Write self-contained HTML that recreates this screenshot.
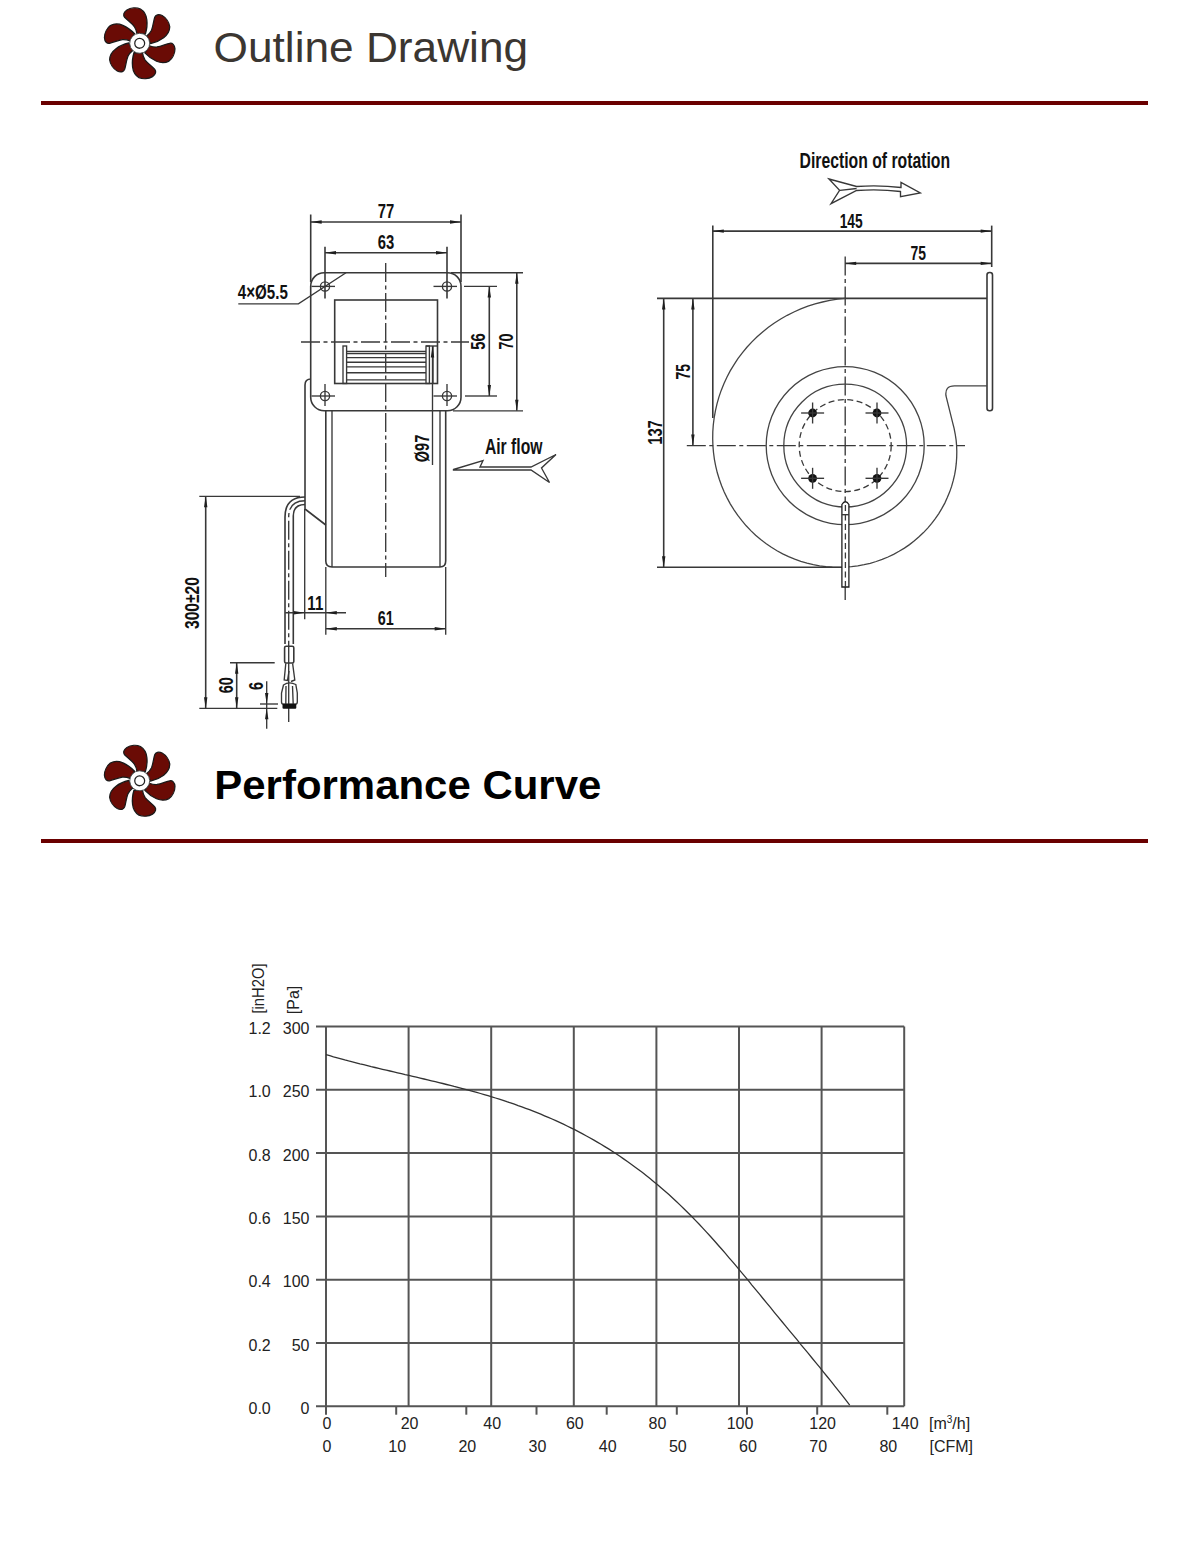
<!DOCTYPE html>
<html><head><meta charset="utf-8"><title>Outline Drawing</title>
<style>html,body{margin:0;padding:0;background:#fff;width:1200px;height:1550px;overflow:hidden;position:relative;font-family:"Liberation Sans",sans-serif}</style>
</head><body>
<svg width="1200" height="1550" viewBox="0 0 1200 1550" style="position:absolute;left:0;top:0">
<style>.d{stroke:#383838;stroke-width:1.6;fill:none}.t{stroke:#383838;stroke-width:1.35;fill:none}.c{stroke:#3a3a3a;stroke-width:1.35;fill:none;stroke-dasharray:19 3.5 4 3.5}.h{stroke:#3a3a3a;stroke-width:1.3;fill:none;stroke-dasharray:6 3.5}.v{stroke:#444;stroke-width:1.3;fill:none}.g{stroke:#555;stroke-width:2;fill:none}</style>
<g transform="translate(139.7 43.3) scale(0.97) rotate(-2)"><path d="M 6.2 -9.3 C 7.8 -14 8.6 -20 8.2 -24 C 7.8 -29 5.5 -33 2 -35.3 C -2 -37.2 -8 -37 -12 -34.8 C -15.6 -32.6 -16.2 -29.5 -14.6 -27.4 C -12 -24.3 -7.5 -21 -5 -17.5 C -3.5 -15 -2.8 -13 -2.5 -10 Z" transform="rotate(0)" fill="#6a0b05" stroke="#1a1a1a" stroke-width="1.3" stroke-linejoin="round"/><path d="M 6.2 -9.3 C 7.8 -14 8.6 -20 8.2 -24 C 7.8 -29 5.5 -33 2 -35.3 C -2 -37.2 -8 -37 -12 -34.8 C -15.6 -32.6 -16.2 -29.5 -14.6 -27.4 C -12 -24.3 -7.5 -21 -5 -17.5 C -3.5 -15 -2.8 -13 -2.5 -10 Z" transform="rotate(60)" fill="#6a0b05" stroke="#1a1a1a" stroke-width="1.3" stroke-linejoin="round"/><path d="M 6.2 -9.3 C 7.8 -14 8.6 -20 8.2 -24 C 7.8 -29 5.5 -33 2 -35.3 C -2 -37.2 -8 -37 -12 -34.8 C -15.6 -32.6 -16.2 -29.5 -14.6 -27.4 C -12 -24.3 -7.5 -21 -5 -17.5 C -3.5 -15 -2.8 -13 -2.5 -10 Z" transform="rotate(120)" fill="#6a0b05" stroke="#1a1a1a" stroke-width="1.3" stroke-linejoin="round"/><path d="M 6.2 -9.3 C 7.8 -14 8.6 -20 8.2 -24 C 7.8 -29 5.5 -33 2 -35.3 C -2 -37.2 -8 -37 -12 -34.8 C -15.6 -32.6 -16.2 -29.5 -14.6 -27.4 C -12 -24.3 -7.5 -21 -5 -17.5 C -3.5 -15 -2.8 -13 -2.5 -10 Z" transform="rotate(180)" fill="#6a0b05" stroke="#1a1a1a" stroke-width="1.3" stroke-linejoin="round"/><path d="M 6.2 -9.3 C 7.8 -14 8.6 -20 8.2 -24 C 7.8 -29 5.5 -33 2 -35.3 C -2 -37.2 -8 -37 -12 -34.8 C -15.6 -32.6 -16.2 -29.5 -14.6 -27.4 C -12 -24.3 -7.5 -21 -5 -17.5 C -3.5 -15 -2.8 -13 -2.5 -10 Z" transform="rotate(240)" fill="#6a0b05" stroke="#1a1a1a" stroke-width="1.3" stroke-linejoin="round"/><path d="M 6.2 -9.3 C 7.8 -14 8.6 -20 8.2 -24 C 7.8 -29 5.5 -33 2 -35.3 C -2 -37.2 -8 -37 -12 -34.8 C -15.6 -32.6 -16.2 -29.5 -14.6 -27.4 C -12 -24.3 -7.5 -21 -5 -17.5 C -3.5 -15 -2.8 -13 -2.5 -10 Z" transform="rotate(300)" fill="#6a0b05" stroke="#1a1a1a" stroke-width="1.3" stroke-linejoin="round"/><circle r="10.3" fill="#fff" stroke="#444" stroke-width="0.9"/><circle r="5.1" fill="#fff" stroke="#222" stroke-width="1.3"/></g>
<text x="213.6" y="62" font-family="Liberation Sans" font-size="43" font-weight="normal" text-anchor="start" fill="#3b3631" textLength="314.5" lengthAdjust="spacingAndGlyphs">Outline Drawing</text>
<rect x="41" y="101" width="1107" height="4" fill="#6a0000"/>
<g transform="translate(139.7 780.8) scale(0.97) rotate(-2)"><path d="M 6.2 -9.3 C 7.8 -14 8.6 -20 8.2 -24 C 7.8 -29 5.5 -33 2 -35.3 C -2 -37.2 -8 -37 -12 -34.8 C -15.6 -32.6 -16.2 -29.5 -14.6 -27.4 C -12 -24.3 -7.5 -21 -5 -17.5 C -3.5 -15 -2.8 -13 -2.5 -10 Z" transform="rotate(0)" fill="#6a0b05" stroke="#1a1a1a" stroke-width="1.3" stroke-linejoin="round"/><path d="M 6.2 -9.3 C 7.8 -14 8.6 -20 8.2 -24 C 7.8 -29 5.5 -33 2 -35.3 C -2 -37.2 -8 -37 -12 -34.8 C -15.6 -32.6 -16.2 -29.5 -14.6 -27.4 C -12 -24.3 -7.5 -21 -5 -17.5 C -3.5 -15 -2.8 -13 -2.5 -10 Z" transform="rotate(60)" fill="#6a0b05" stroke="#1a1a1a" stroke-width="1.3" stroke-linejoin="round"/><path d="M 6.2 -9.3 C 7.8 -14 8.6 -20 8.2 -24 C 7.8 -29 5.5 -33 2 -35.3 C -2 -37.2 -8 -37 -12 -34.8 C -15.6 -32.6 -16.2 -29.5 -14.6 -27.4 C -12 -24.3 -7.5 -21 -5 -17.5 C -3.5 -15 -2.8 -13 -2.5 -10 Z" transform="rotate(120)" fill="#6a0b05" stroke="#1a1a1a" stroke-width="1.3" stroke-linejoin="round"/><path d="M 6.2 -9.3 C 7.8 -14 8.6 -20 8.2 -24 C 7.8 -29 5.5 -33 2 -35.3 C -2 -37.2 -8 -37 -12 -34.8 C -15.6 -32.6 -16.2 -29.5 -14.6 -27.4 C -12 -24.3 -7.5 -21 -5 -17.5 C -3.5 -15 -2.8 -13 -2.5 -10 Z" transform="rotate(180)" fill="#6a0b05" stroke="#1a1a1a" stroke-width="1.3" stroke-linejoin="round"/><path d="M 6.2 -9.3 C 7.8 -14 8.6 -20 8.2 -24 C 7.8 -29 5.5 -33 2 -35.3 C -2 -37.2 -8 -37 -12 -34.8 C -15.6 -32.6 -16.2 -29.5 -14.6 -27.4 C -12 -24.3 -7.5 -21 -5 -17.5 C -3.5 -15 -2.8 -13 -2.5 -10 Z" transform="rotate(240)" fill="#6a0b05" stroke="#1a1a1a" stroke-width="1.3" stroke-linejoin="round"/><path d="M 6.2 -9.3 C 7.8 -14 8.6 -20 8.2 -24 C 7.8 -29 5.5 -33 2 -35.3 C -2 -37.2 -8 -37 -12 -34.8 C -15.6 -32.6 -16.2 -29.5 -14.6 -27.4 C -12 -24.3 -7.5 -21 -5 -17.5 C -3.5 -15 -2.8 -13 -2.5 -10 Z" transform="rotate(300)" fill="#6a0b05" stroke="#1a1a1a" stroke-width="1.3" stroke-linejoin="round"/><circle r="10.3" fill="#fff" stroke="#444" stroke-width="0.9"/><circle r="5.1" fill="#fff" stroke="#222" stroke-width="1.3"/></g>
<text x="214.3" y="799" font-family="Liberation Sans" font-size="41" font-weight="bold" text-anchor="start" fill="#000" textLength="387" lengthAdjust="spacingAndGlyphs">Performance Curve</text>
<rect x="41" y="839" width="1107" height="4" fill="#6a0000"/>
<line x1="310.7" y1="214.5" x2="310.7" y2="282" class="d"/>
<line x1="461" y1="214.5" x2="461" y2="282" class="d"/>
<line x1="310.7" y1="222" x2="461" y2="222" class="d"/><path d="M310.7 222.0 L321.7 220.3 L321.7 223.7 Z" fill="#1e1e1e"/><path d="M461.0 222.0 L450.0 223.7 L450.0 220.3 Z" fill="#1e1e1e"/>
<text x="386" y="217.8" font-family="Liberation Sans" font-size="20" font-weight="bold" text-anchor="middle" fill="#111" textLength="16.5" lengthAdjust="spacingAndGlyphs">77</text>
<line x1="325" y1="246.7" x2="325" y2="298.5" class="d"/>
<line x1="447" y1="246.7" x2="447" y2="298.5" class="d"/>
<line x1="325" y1="252.7" x2="447" y2="252.7" class="d"/><path d="M325.0 252.7 L336.0 251.0 L336.0 254.4 Z" fill="#1e1e1e"/><path d="M447.0 252.7 L436.0 254.4 L436.0 251.0 Z" fill="#1e1e1e"/>
<text x="386" y="249" font-family="Liberation Sans" font-size="20" font-weight="bold" text-anchor="middle" fill="#111" textLength="16.5" lengthAdjust="spacingAndGlyphs">63</text>
<rect x="310.7" y="272.7" width="150.3" height="138" rx="13.5" ry="13.5" class="d"/>
<circle cx="325" cy="286.4" r="4.6" class="t"/>
<line x1="311.5" y1="286.4" x2="335" y2="286.4" class="t"/>
<circle cx="447" cy="286.4" r="4.6" class="t"/>
<line x1="433.5" y1="286.4" x2="457" y2="286.4" class="t"/>
<circle cx="325" cy="396" r="4.6" class="t"/>
<line x1="311.5" y1="396" x2="335" y2="396" class="t"/>
<circle cx="447" cy="396" r="4.6" class="t"/>
<line x1="433.5" y1="396" x2="457" y2="396" class="t"/>
<line x1="325" y1="384" x2="325" y2="406" class="t"/>
<line x1="447" y1="384" x2="447" y2="406" class="t"/>
<rect x="334.7" y="300" width="102.8" height="83.5" class="d"/>
<rect x="343" y="346" width="3.6" height="37.5" class="t"/>
<rect x="426" y="346" width="3.4" height="37.5" class="t"/>
<line x1="433" y1="346" x2="433" y2="383.5" class="t"/>
<line x1="346.6" y1="351.5" x2="426" y2="351.5" class="t"/>
<line x1="346.6" y1="353.6" x2="426" y2="353.6" class="t"/>
<line x1="346.6" y1="357.6" x2="426" y2="357.6" class="t"/>
<line x1="346.6" y1="362.2" x2="426" y2="362.2" class="t"/>
<line x1="346.6" y1="366.9" x2="426" y2="366.9" class="t"/>
<line x1="346.6" y1="372.7" x2="426" y2="372.7" class="t"/>
<line x1="346.6" y1="379.8" x2="426" y2="379.8" class="t"/>
<line x1="385.7" y1="263" x2="385.7" y2="577" class="c"/>
<line x1="301" y1="342" x2="469" y2="342" class="c"/>
<line x1="464" y1="286.4" x2="497" y2="286.4" class="t"/>
<line x1="465" y1="396" x2="497" y2="396" class="t"/>
<line x1="489.3" y1="286.4" x2="489.3" y2="396" class="d"/><path d="M489.3 286.4 L491.0 297.4 L487.6 297.4 Z" fill="#1e1e1e"/><path d="M489.3 396.0 L487.6 385.0 L491.0 385.0 Z" fill="#1e1e1e"/>
<line x1="451" y1="272.7" x2="523" y2="272.7" class="t"/>
<line x1="453" y1="410.8" x2="523" y2="410.8" class="t"/>
<line x1="516.8" y1="272.7" x2="516.8" y2="410.8" class="d"/><path d="M516.8 272.7 L518.5 283.7 L515.1 283.7 Z" fill="#1e1e1e"/><path d="M516.8 410.8 L515.1 399.8 L518.5 399.8 Z" fill="#1e1e1e"/>
<text x="485" y="341.5" font-family="Liberation Sans" font-size="20" font-weight="bold" text-anchor="middle" fill="#111" textLength="16.5" lengthAdjust="spacingAndGlyphs" transform="rotate(-90 485 341.5)">56</text>
<text x="512.5" y="341.5" font-family="Liberation Sans" font-size="20" font-weight="bold" text-anchor="middle" fill="#111" textLength="16" lengthAdjust="spacingAndGlyphs" transform="rotate(-90 512.5 341.5)">70</text>
<text x="262.8" y="298.6" font-family="Liberation Sans" font-size="20" font-weight="bold" text-anchor="middle" fill="#111" textLength="50" lengthAdjust="spacingAndGlyphs">4×Ø5.5</text>
<path d="M238.3 303.8 L298.4 303.8 L346 272.7" class="t"/>
<path d="M325.8 410.8 L325.8 561 Q325.8 567 332 567 L440 567 Q445.7 567 445.7 561 L445.7 410.8" class="d"/>
<line x1="332" y1="410.8" x2="332" y2="567" class="t"/>
<line x1="440" y1="410.8" x2="440" y2="567" class="t"/>
<line x1="432.5" y1="346" x2="432.5" y2="465" class="t"/>
<path d="M432.5 346.5 L434.2 357.5 L430.8 357.5 Z" fill="#1e1e1e"/>
<line x1="426" y1="346" x2="438" y2="346" class="t"/>
<text x="429" y="448.5" font-family="Liberation Sans" font-size="20" font-weight="bold" text-anchor="middle" fill="#111" textLength="27.5" lengthAdjust="spacingAndGlyphs" transform="rotate(-90 429 448.5)">Ø97</text>
<path d="M311 379 Q305 379 305 385 L305 509 L325.8 525" class="d"/>
<path d="M305 497 Q285 497 285 517 L285 644" class="d"/>
<path d="M305 504.5 Q293.3 504.5 293.3 516 L293.3 644" class="d"/>
<path d="M305 500.7 Q288.7 500.7 288.7 517 L288.7 646" class="c"/>
<rect x="284.6" y="646.2" width="9.2" height="16.8" rx="1.5" class="d"/>
<line x1="288.7" y1="646" x2="288.7" y2="722" class="t"/>
<path d="M285.8 663.3 L284.2 680 L287.5 680.5 L289 671 M292.6 663.3 L294.8 680 L291 681.5" class="t"/>
<path d="M283.5 685 Q289 681 295.8 684.5 L297.3 693 L297.3 702 Q297.3 704.2 295 704.2 L283.8 704.2 Q281.5 704.2 281.5 702 L281.5 693 Z" class="t"/>
<path d="M286 686 L285.8 704 M292.5 686 L293.2 704" class="t"/>
<rect x="282.5" y="703.8" width="13.8" height="5" rx="1" fill="#111"/>
<line x1="199.3" y1="496.3" x2="300" y2="496.3" class="t"/>
<line x1="199.3" y1="708.3" x2="277.3" y2="708.3" class="t"/>
<line x1="205.7" y1="496.3" x2="205.7" y2="708.3" class="d"/><path d="M205.7 496.3 L207.4 507.3 L204.0 507.3 Z" fill="#1e1e1e"/><path d="M205.7 708.3 L204.0 697.3 L207.4 697.3 Z" fill="#1e1e1e"/>
<text x="199.2" y="603" font-family="Liberation Sans" font-size="20" font-weight="bold" text-anchor="middle" fill="#111" textLength="52" lengthAdjust="spacingAndGlyphs" transform="rotate(-90 199.2 603)">300±20</text>
<line x1="230" y1="662.7" x2="274.7" y2="662.7" class="t"/>
<line x1="236.7" y1="662.7" x2="236.7" y2="708.3" class="d"/><path d="M236.7 662.7 L238.4 673.7 L235.0 673.7 Z" fill="#1e1e1e"/><path d="M236.7 708.3 L235.0 697.3 L238.4 697.3 Z" fill="#1e1e1e"/>
<text x="233.3" y="685.3" font-family="Liberation Sans" font-size="20" font-weight="bold" text-anchor="middle" fill="#111" textLength="16" lengthAdjust="spacingAndGlyphs" transform="rotate(-90 233.3 685.3)">60</text>
<line x1="266.7" y1="681.3" x2="266.7" y2="728.7" class="t"/>
<path d="M266.7 704.0 L265.0 693.0 L268.4 693.0 Z" fill="#1e1e1e"/>
<path d="M266.7 708.3 L268.4 719.3 L265.0 719.3 Z" fill="#1e1e1e"/>
<line x1="260" y1="704" x2="278" y2="704" class="t"/>
<text x="263.3" y="686" font-family="Liberation Sans" font-size="20" font-weight="bold" text-anchor="middle" fill="#111" textLength="8" lengthAdjust="spacingAndGlyphs" transform="rotate(-90 263.3 686)">6</text>
<line x1="304.7" y1="509" x2="304.7" y2="619.3" class="t"/>
<line x1="285.3" y1="612.7" x2="346" y2="612.7" class="t"/>
<path d="M304.7 612.7 L293.7 614.4 L293.7 611.0 Z" fill="#1e1e1e"/>
<path d="M325.8 612.7 L336.8 611.0 L336.8 614.4 Z" fill="#1e1e1e"/>
<text x="315.3" y="609.5" font-family="Liberation Sans" font-size="20" font-weight="bold" text-anchor="middle" fill="#111" textLength="16" lengthAdjust="spacingAndGlyphs">11</text>
<line x1="325.8" y1="567" x2="325.8" y2="634.7" class="t"/>
<line x1="445.7" y1="567" x2="445.7" y2="634.7" class="t"/>
<line x1="325.8" y1="628.7" x2="445.7" y2="628.7" class="d"/><path d="M325.8 628.7 L336.8 627.0 L336.8 630.4 Z" fill="#1e1e1e"/><path d="M445.7 628.7 L434.7 630.4 L434.7 627.0 Z" fill="#1e1e1e"/>
<text x="385.8" y="625" font-family="Liberation Sans" font-size="20" font-weight="bold" text-anchor="middle" fill="#111" textLength="16" lengthAdjust="spacingAndGlyphs">61</text>
<text x="513.7" y="453.5" font-family="Liberation Sans" font-size="21.5" font-weight="bold" text-anchor="middle" fill="#111" textLength="57.5" lengthAdjust="spacingAndGlyphs">Air flow</text>
<path d="M453.5 469.5 L483 460.5 L480 467 L531 467 L556 454.5 L541.5 468 L549.5 482.5 L531 470 L453.5 470 Z" class="t" stroke-linejoin="miter"/>
<text x="874.8" y="167.5" font-family="Liberation Sans" font-size="22" font-weight="bold" text-anchor="middle" fill="#111" textLength="150.5" lengthAdjust="spacingAndGlyphs">Direction of rotation</text>
<path d="M829 179 L856.6 186.5 Q880 185 901 187.5 L901 182.5 L920.3 193 L900.5 196.7 L900.5 191.5 Q880 189 856.6 190.5 L831 203.7 L839.6 190.3 Z" class="t"/>
<line x1="840" y1="190.3" x2="856.6" y2="188.5" class="t"/>
<line x1="712.8" y1="225.6" x2="712.8" y2="418" class="d"/>
<line x1="991.7" y1="225.6" x2="991.7" y2="267" class="d"/>
<line x1="712.8" y1="231.1" x2="991.7" y2="231.1" class="d"/><path d="M712.8 231.1 L723.8 229.4 L723.8 232.8 Z" fill="#1e1e1e"/><path d="M991.7 231.1 L980.7 232.8 L980.7 229.4 Z" fill="#1e1e1e"/>
<text x="851.2" y="228" font-family="Liberation Sans" font-size="20" font-weight="bold" text-anchor="middle" fill="#111" textLength="23" lengthAdjust="spacingAndGlyphs">145</text>
<line x1="845.2" y1="256.4" x2="845.2" y2="600" class="c"/>
<line x1="845.2" y1="263.4" x2="991.7" y2="263.4" class="d"/><path d="M845.2 263.4 L856.2 261.7 L856.2 265.1 Z" fill="#1e1e1e"/><path d="M991.7 263.4 L980.7 265.1 L980.7 261.7 Z" fill="#1e1e1e"/>
<text x="918.3" y="259.8" font-family="Liberation Sans" font-size="20" font-weight="bold" text-anchor="middle" fill="#111" textLength="15.5" lengthAdjust="spacingAndGlyphs">75</text>
<line x1="657" y1="298.4" x2="987" y2="298.4" class="d"/>
<rect x="987" y="272.5" width="5.5" height="138.2" rx="2.5" class="d"/>
<path d="M845.2 298.4 L837.5 299.2 L829.9 300.4 L822.5 302.0 L815.1 303.9 L807.9 306.2 L800.8 308.9 L793.9 312.0 L787.2 315.3 L780.7 319.0 L774.4 323.0 L768.4 327.3 L762.6 331.9 L757.1 336.8 L751.9 341.9 L746.9 347.3 L742.3 352.9 L737.9 358.7 L733.9 364.8 L730.2 370.9 L726.9 377.3 L723.9 383.8 L721.2 390.4 L718.9 397.1 L717.0 403.9 L715.4 410.8 L714.2 417.7 L713.3 424.7 L712.8 431.7 L712.7 438.7 L712.9 445.6 L713.5 452.5 L714.4 459.3 L715.7 466.1 L717.3 472.8 L719.3 479.3 L721.6 485.8 L724.2 492.0 L727.2 498.1 L730.4 504.1 L734.0 509.8 L737.8 515.4 L741.9 520.7 L746.2 525.8 L750.8 530.6 L755.6 535.2 L760.7 539.5 L765.9 543.5 L771.4 547.2 L777.0 550.7 L782.7 553.8 L788.6 556.6 L794.7 559.1 L800.8 561.3 L807.0 563.1 L813.3 564.6 L819.6 565.8 L826.0 566.7 L832.4 567.2 L838.8 567.4 L845.2 567.2 L851.5 566.7 L857.8 565.9 L864.1 564.7 L870.2 563.3 L876.2 561.5 L882.2 559.4 L888.0 557.0 L893.6 554.3 L899.1 551.3 L904.4 548.1 L909.5 544.6 L914.4 540.8 L919.0 536.8 L923.5 532.6 L927.7 528.1 L931.7 523.4 L935.3 518.6 L938.8 513.6 L941.9 508.4 L944.8 503.1 L947.3 497.6 L949.6 492.1 L951.6 486.4 L953.2 480.7 L954.6 474.9 L955.6 469.1 L956.3 463.2 L956.7 457.3 L956.8 451.4 L956.6 445.6 L956.1 439.8 L955.2 434.0 L954.1 428.4 L952.7 422.8 L946 396 Q944.6 385.8 954.5 385.8 L987 385.8" class="v"/>
<circle cx="845.2" cy="445.6" r="79" class="v"/>
<circle cx="845.2" cy="445.6" r="61.4" class="v"/>
<circle cx="845.2" cy="445.6" r="46" class="h"/>
<circle cx="812.6" cy="413" r="4.4" fill="#111"/>
<line x1="801.1" y1="413" x2="824.1" y2="413" class="t"/>
<line x1="812.6" y1="402.5" x2="812.6" y2="423.5" class="t"/>
<circle cx="877" cy="413" r="4.4" fill="#111"/>
<line x1="865.5" y1="413" x2="888.5" y2="413" class="t"/>
<line x1="877" y1="402.5" x2="877" y2="423.5" class="t"/>
<circle cx="812.6" cy="478.3" r="4.4" fill="#111"/>
<line x1="801.1" y1="478.3" x2="824.1" y2="478.3" class="t"/>
<line x1="812.6" y1="467.8" x2="812.6" y2="488.8" class="t"/>
<circle cx="877" cy="478.3" r="4.4" fill="#111"/>
<line x1="865.5" y1="478.3" x2="888.5" y2="478.3" class="t"/>
<line x1="877" y1="467.8" x2="877" y2="488.8" class="t"/>
<line x1="686.8" y1="445.6" x2="965" y2="445.6" class="c"/>
<line x1="692.9" y1="298.4" x2="692.9" y2="445.6" class="d"/><path d="M692.9 298.4 L694.6 309.4 L691.2 309.4 Z" fill="#1e1e1e"/><path d="M692.9 445.6 L691.2 434.6 L694.6 434.6 Z" fill="#1e1e1e"/>
<text x="690.3" y="371.8" font-family="Liberation Sans" font-size="20" font-weight="bold" text-anchor="middle" fill="#111" textLength="15.5" lengthAdjust="spacingAndGlyphs" transform="rotate(-90 690.3 371.8)">75</text>
<line x1="657" y1="567.2" x2="845" y2="567.2" class="d"/>
<line x1="663.7" y1="298.4" x2="663.7" y2="567.2" class="d"/><path d="M663.7 298.4 L665.4 309.4 L662.0 309.4 Z" fill="#1e1e1e"/><path d="M663.7 567.2 L662.0 556.2 L665.4 556.2 Z" fill="#1e1e1e"/>
<text x="661.6" y="432.5" font-family="Liberation Sans" font-size="20" font-weight="bold" text-anchor="middle" fill="#111" textLength="24.5" lengthAdjust="spacingAndGlyphs" transform="rotate(-90 661.6 432.5)">137</text>
<path d="M841.9 587 L841.9 504.5 Q845.4 499 848.9 504.5 L848.9 587 Z" fill="#fff" stroke="#1e1e1e" stroke-width="1.3"/>
<line x1="841.9" y1="514.7" x2="848.9" y2="514.7" class="t"/>
<line x1="845.4" y1="505" x2="845.4" y2="590" class="h"/>
<line x1="326.0" y1="1026.5" x2="326.0" y2="1406.3" class="g"/>
<line x1="408.6" y1="1026.5" x2="408.6" y2="1406.3" class="g"/>
<line x1="491.2" y1="1026.5" x2="491.2" y2="1406.3" class="g"/>
<line x1="573.8" y1="1026.5" x2="573.8" y2="1406.3" class="g"/>
<line x1="656.4" y1="1026.5" x2="656.4" y2="1406.3" class="g"/>
<line x1="739.0" y1="1026.5" x2="739.0" y2="1406.3" class="g"/>
<line x1="821.6" y1="1026.5" x2="821.6" y2="1406.3" class="g"/>
<line x1="904.2" y1="1026.5" x2="904.2" y2="1406.3" class="g"/>
<line x1="316" y1="1026.5" x2="904.2" y2="1026.5" class="g"/>
<line x1="316" y1="1089.8" x2="904.2" y2="1089.8" class="g"/>
<line x1="316" y1="1153.1" x2="904.2" y2="1153.1" class="g"/>
<line x1="316" y1="1216.4" x2="904.2" y2="1216.4" class="g"/>
<line x1="316" y1="1279.7" x2="904.2" y2="1279.7" class="g"/>
<line x1="316" y1="1343.0" x2="904.2" y2="1343.0" class="g"/>
<line x1="316" y1="1406.3" x2="904.2" y2="1406.3" class="g"/>
<line x1="326.0" y1="1406.3" x2="326.0" y2="1414.7" class="g"/>
<line x1="396.2" y1="1406.3" x2="396.2" y2="1414.7" class="g"/>
<line x1="466.3" y1="1406.3" x2="466.3" y2="1414.7" class="g"/>
<line x1="536.5" y1="1406.3" x2="536.5" y2="1414.7" class="g"/>
<line x1="606.7" y1="1406.3" x2="606.7" y2="1414.7" class="g"/>
<line x1="676.8" y1="1406.3" x2="676.8" y2="1414.7" class="g"/>
<line x1="747.0" y1="1406.3" x2="747.0" y2="1414.7" class="g"/>
<line x1="817.2" y1="1406.3" x2="817.2" y2="1414.7" class="g"/>
<line x1="887.3" y1="1406.3" x2="887.3" y2="1414.7" class="g"/>
<path d="M326.0 1054.6 L329.8 1055.7 L333.5 1056.8 L337.3 1057.8 L341.1 1058.8 L344.8 1059.9 L348.6 1060.9 L352.4 1061.8 L356.1 1062.8 L359.9 1063.8 L363.7 1064.7 L367.4 1065.6 L371.2 1066.6 L375.0 1067.5 L378.7 1068.4 L382.5 1069.3 L386.3 1070.2 L390.0 1071.0 L393.8 1071.9 L397.6 1072.8 L401.4 1073.7 L405.1 1074.6 L408.9 1075.4 L412.7 1076.3 L416.4 1077.2 L420.2 1078.1 L424.0 1079.0 L427.7 1079.9 L431.5 1080.8 L435.3 1081.7 L439.0 1082.6 L442.8 1083.5 L446.6 1084.5 L450.3 1085.4 L454.1 1086.4 L457.9 1087.3 L461.6 1088.3 L465.4 1089.3 L469.2 1090.3 L472.9 1091.4 L476.7 1092.4 L480.5 1093.5 L484.2 1094.6 L488.0 1095.7 L491.8 1096.9 L495.5 1098.0 L499.3 1099.2 L503.1 1100.4 L506.8 1101.7 L510.6 1102.9 L514.4 1104.2 L518.1 1105.6 L521.9 1106.9 L525.7 1108.3 L529.5 1109.7 L533.2 1111.2 L537.0 1112.7 L540.8 1114.2 L544.5 1115.8 L548.3 1117.4 L552.1 1119.0 L555.8 1120.7 L559.6 1122.4 L563.4 1124.2 L567.1 1126.0 L570.9 1127.8 L574.7 1129.7 L578.4 1131.6 L582.2 1133.6 L586.0 1135.7 L589.7 1137.8 L593.5 1139.9 L597.3 1142.1 L601.0 1144.3 L604.8 1146.6 L608.6 1148.9 L612.3 1151.3 L616.1 1153.8 L619.9 1156.3 L623.6 1158.9 L627.4 1161.5 L631.2 1164.2 L634.9 1166.9 L638.7 1169.8 L642.5 1172.6 L646.2 1175.6 L650.0 1178.6 L653.8 1181.7 L657.6 1184.8 L661.3 1188.0 L665.1 1191.3 L668.9 1194.6 L672.6 1198.0 L676.4 1201.5 L680.2 1205.1 L683.9 1208.7 L687.7 1212.5 L691.5 1216.2 L695.2 1220.1 L699.0 1224.0 L702.8 1228.1 L706.5 1232.1 L710.3 1236.3 L714.1 1240.5 L717.8 1244.7 L721.6 1249.0 L725.4 1253.4 L729.1 1257.8 L732.9 1262.2 L736.7 1266.6 L740.4 1271.1 L744.2 1275.7 L748.0 1280.2 L751.7 1284.8 L755.5 1289.3 L759.3 1293.9 L763.0 1298.5 L766.8 1303.1 L770.6 1307.7 L774.3 1312.3 L778.1 1316.9 L781.9 1321.5 L785.7 1326.1 L789.4 1330.6 L793.2 1335.2 L797.0 1339.7 L800.7 1344.3 L804.5 1348.8 L808.3 1353.4 L812.0 1358.0 L815.8 1362.6 L819.6 1367.2 L823.3 1371.8 L827.1 1376.5 L830.9 1381.1 L834.6 1385.9 L838.4 1390.6 L842.2 1395.4 L845.9 1400.2 L849.7 1405.1" stroke="#333" stroke-width="1.3" fill="none"/>
<text x="248.5" y="1034.0" font-family="Liberation Sans" font-size="16" font-weight="normal" text-anchor="start" fill="#222">1.2</text>
<text x="309.5" y="1034.0" font-family="Liberation Sans" font-size="16" font-weight="normal" text-anchor="end" fill="#222">300</text>
<text x="248.5" y="1097.3" font-family="Liberation Sans" font-size="16" font-weight="normal" text-anchor="start" fill="#222">1.0</text>
<text x="309.5" y="1097.3" font-family="Liberation Sans" font-size="16" font-weight="normal" text-anchor="end" fill="#222">250</text>
<text x="248.5" y="1160.6" font-family="Liberation Sans" font-size="16" font-weight="normal" text-anchor="start" fill="#222">0.8</text>
<text x="309.5" y="1160.6" font-family="Liberation Sans" font-size="16" font-weight="normal" text-anchor="end" fill="#222">200</text>
<text x="248.5" y="1223.9" font-family="Liberation Sans" font-size="16" font-weight="normal" text-anchor="start" fill="#222">0.6</text>
<text x="309.5" y="1223.9" font-family="Liberation Sans" font-size="16" font-weight="normal" text-anchor="end" fill="#222">150</text>
<text x="248.5" y="1287.2" font-family="Liberation Sans" font-size="16" font-weight="normal" text-anchor="start" fill="#222">0.4</text>
<text x="309.5" y="1287.2" font-family="Liberation Sans" font-size="16" font-weight="normal" text-anchor="end" fill="#222">100</text>
<text x="248.5" y="1350.5" font-family="Liberation Sans" font-size="16" font-weight="normal" text-anchor="start" fill="#222">0.2</text>
<text x="309.5" y="1350.5" font-family="Liberation Sans" font-size="16" font-weight="normal" text-anchor="end" fill="#222">50</text>
<text x="248.5" y="1413.8" font-family="Liberation Sans" font-size="16" font-weight="normal" text-anchor="start" fill="#222">0.0</text>
<text x="309.5" y="1413.8" font-family="Liberation Sans" font-size="16" font-weight="normal" text-anchor="end" fill="#222">0</text>
<text x="327.0" y="1428.5" font-family="Liberation Sans" font-size="16" font-weight="normal" text-anchor="middle" fill="#222">0</text>
<text x="409.6" y="1428.5" font-family="Liberation Sans" font-size="16" font-weight="normal" text-anchor="middle" fill="#222">20</text>
<text x="492.2" y="1428.5" font-family="Liberation Sans" font-size="16" font-weight="normal" text-anchor="middle" fill="#222">40</text>
<text x="574.8" y="1428.5" font-family="Liberation Sans" font-size="16" font-weight="normal" text-anchor="middle" fill="#222">60</text>
<text x="657.4" y="1428.5" font-family="Liberation Sans" font-size="16" font-weight="normal" text-anchor="middle" fill="#222">80</text>
<text x="740.0" y="1428.5" font-family="Liberation Sans" font-size="16" font-weight="normal" text-anchor="middle" fill="#222">100</text>
<text x="822.6" y="1428.5" font-family="Liberation Sans" font-size="16" font-weight="normal" text-anchor="middle" fill="#222">120</text>
<text x="905.2" y="1428.5" font-family="Liberation Sans" font-size="16" font-weight="normal" text-anchor="middle" fill="#222">140</text>
<text x="327.0" y="1451.5" font-family="Liberation Sans" font-size="16" font-weight="normal" text-anchor="middle" fill="#222">0</text>
<text x="397.2" y="1451.5" font-family="Liberation Sans" font-size="16" font-weight="normal" text-anchor="middle" fill="#222">10</text>
<text x="467.3" y="1451.5" font-family="Liberation Sans" font-size="16" font-weight="normal" text-anchor="middle" fill="#222">20</text>
<text x="537.5" y="1451.5" font-family="Liberation Sans" font-size="16" font-weight="normal" text-anchor="middle" fill="#222">30</text>
<text x="607.7" y="1451.5" font-family="Liberation Sans" font-size="16" font-weight="normal" text-anchor="middle" fill="#222">40</text>
<text x="677.8" y="1451.5" font-family="Liberation Sans" font-size="16" font-weight="normal" text-anchor="middle" fill="#222">50</text>
<text x="748.0" y="1451.5" font-family="Liberation Sans" font-size="16" font-weight="normal" text-anchor="middle" fill="#222">60</text>
<text x="818.2" y="1451.5" font-family="Liberation Sans" font-size="16" font-weight="normal" text-anchor="middle" fill="#222">70</text>
<text x="888.3" y="1451.5" font-family="Liberation Sans" font-size="16" font-weight="normal" text-anchor="middle" fill="#222">80</text>
<text x="929" y="1428.5" font-family="Liberation Sans" font-size="16" font-weight="normal" text-anchor="start" fill="#222">[m<tspan dy="-6" font-size="10">3</tspan><tspan dy="6">/h]</tspan></text>
<text x="929.5" y="1451.5" font-family="Liberation Sans" font-size="16" font-weight="normal" text-anchor="start" fill="#222">[CFM]</text>
<text x="263.5" y="988.5" font-family="Liberation Sans" font-size="16" font-weight="normal" text-anchor="middle" fill="#222" textLength="50" lengthAdjust="spacingAndGlyphs" transform="rotate(-90 263.5 988.5)">[inH2O]</text>
<text x="299" y="1000" font-family="Liberation Sans" font-size="16" font-weight="normal" text-anchor="middle" fill="#222" transform="rotate(-90 299 1000)">[Pa]</text>
</svg>
</body></html>
